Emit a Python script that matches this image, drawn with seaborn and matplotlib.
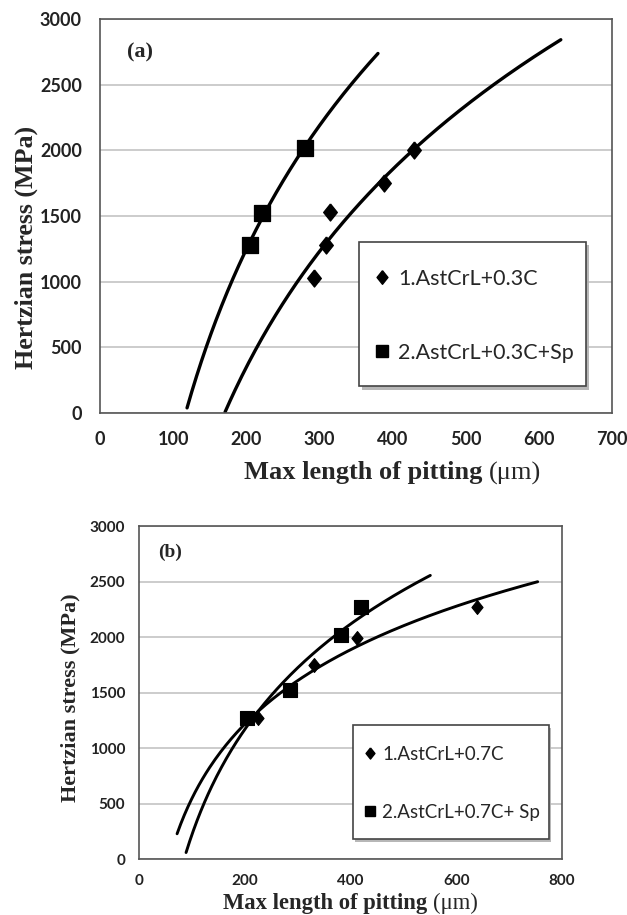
import numpy as np
import pandas as pd
import matplotlib
matplotlib.use("Agg")
import matplotlib.pyplot as plt
import seaborn as sns
from matplotlib.lines import Line2D
from matplotlib.patches import Rectangle, Shadow

# ---------------- data ----------------
# panel (a)
a_s1_label = "1.AstCrL+0.3C"
a_s1_x = [292, 309, 314, 388, 429]
a_s1_y = [1030, 1280, 1530, 1750, 2000]
a_s2_label = "2.AstCrL+0.3C+Sp"
a_s2_x = [205, 222, 280]
a_s2_y = [1280, 1520, 2020]
a_s1_trend_range = [171, 630]
a_s2_trend_range = [119, 380]

# panel (b)
b_s1_label = "1.AstCrL+0.7C"
b_s1_x = [226, 331, 413, 639]
b_s1_y = [1270, 1750, 1995, 2275]
b_s2_label = "2.AstCrL+0.7C+ Sp"
b_s2_x = [204, 285, 382, 419]
b_s2_y = [1270, 1520, 2015, 2275]
b_s1_trend_range = [72, 754]
b_s2_trend_range = [89, 551]

a_xticks = [0, 100, 200, 300, 400, 500, 600, 700]
b_xticks = [0, 200, 400, 600, 800]
yticks = [0, 500, 1000, 1500, 2000, 2500, 3000]

sns.set_theme(style="white")
plt.rcParams["font.family"] = ["Lato", "DejaVu Sans"]

SERIF = "Liberation Serif"
DIAMOND = [(0, 1), (0.8, 0), (0, -1), (-0.8, 0), (0, 1)]


def log_trend(x, y, xr):
    a, b = np.polyfit(np.log(np.asarray(x, float)), np.asarray(y, float), 1)
    xs = np.linspace(xr[0], xr[1], 200)
    return pd.DataFrame({"x": xs, "y": a * np.log(xs) + b})


def panel(ax, s1, s2, r1, r2, xticks, xmax, tag, tag_pos, tag_fs, tick_fs,
          tick_pad, lw, ms1, ms2, leg_fs, frame, leg_anchor, leg_ls, leg_tp):
    ax.set_xlim(0, xmax)
    ax.set_ylim(0, 3000)
    ax.yaxis.grid(True, color="#c8c8c8", lw=1.3)
    ax.xaxis.grid(False)
    for sp in ax.spines.values():
        sp.set_color("#555555")
        sp.set_linewidth(1.2)
    t1 = log_trend(s1[0], s1[1], r1)
    t2 = log_trend(s2[0], s2[1], r2)
    sns.lineplot(data=t1, x="x", y="y", ax=ax, color="black", lw=lw, sort=False)
    sns.lineplot(data=t2, x="x", y="y", ax=ax, color="black", lw=lw, sort=False)
    d1 = pd.DataFrame({"x": s1[0], "y": s1[1]})
    d2 = pd.DataFrame({"x": s2[0], "y": s2[1]})
    sns.scatterplot(data=d1, x="x", y="y", ax=ax, marker=DIAMOND, s=ms1,
                    color="black", edgecolor="black", zorder=5)
    sns.scatterplot(data=d2, x="x", y="y", ax=ax, marker="s", s=ms2,
                    color="black", edgecolor="black", zorder=5)
    ax.set_xticks(xticks)
    ax.set_yticks(yticks)
    ax.tick_params(axis="x", length=0, labelsize=tick_fs, pad=tick_pad[0])
    ax.tick_params(axis="y", length=0, labelsize=tick_fs, pad=tick_pad[1])
    for lab in ax.get_xticklabels() + ax.get_yticklabels():
        lab.set_fontweight("bold")
        lab.set_color("#222222")
    ax.set_xlabel("")
    ax.set_ylabel("")
    ax.text(tag_pos[0], tag_pos[1], tag, transform=ax.transAxes,
            fontfamily=SERIF, fontweight="bold", fontsize=tag_fs,
            va="center", ha="center")
    # legend frame with drop shadow
    rect = Rectangle((frame[0], frame[1]), frame[2], frame[3],
                     transform=ax.transAxes, facecolor="white",
                     edgecolor="#444444", lw=1.2, zorder=8)
    shadow = Shadow(rect, 0.004, -0.006, facecolor="#b0b0b0",
                    edgecolor="none", alpha=0.9, zorder=7.5)
    ax.add_patch(shadow)
    ax.add_patch(rect)
    handles = [
        Line2D([], [], marker=DIAMOND, ls="none", color="black",
               markersize=np.sqrt(ms1) * 0.8),
        Line2D([], [], marker="s", ls="none", color="black",
               markersize=np.sqrt(ms2) * 0.75),
    ]
    leg = ax.legend(handles, [s1[2], s2[2]], loc="center left",
                    bbox_to_anchor=leg_anchor, fontsize=leg_fs,
                    frameon=False, handlelength=0.7,
                    handletextpad=leg_tp, labelspacing=leg_ls,
                    borderpad=0, borderaxespad=0)
    leg.set_zorder(10)
    return ax


def xlabel(fig, xsplit, y, fs):
    fig.text(xsplit, y, "Max length of pitting ", ha="right", va="center",
             fontfamily=SERIF, fontweight="bold", fontsize=fs)
    fig.text(xsplit, y, "(\u03bcm)", ha="left", va="center",
             fontfamily=SERIF, fontsize=fs)


def ylabel(fig, x, y, fs):
    fig.text(x, y, "Hertzian stress (MPa)", rotation=90, ha="center",
             va="center", fontfamily=SERIF, fontweight="bold", fontsize=fs)


fig = plt.figure(figsize=(6.27, 9.15), dpi=100)

ax1 = fig.add_axes([0.1595, 0.5486, 0.8166, 0.4306])
panel(ax1, (a_s1_x, a_s1_y, a_s1_label), (a_s2_x, a_s2_y, a_s2_label),
      a_s1_trend_range, a_s2_trend_range, a_xticks, 700, "(a)",
      (0.078, 0.916), tag_fs=16, tick_fs=13, tick_pad=(13, 13),
      lw=2.4, ms1=150, ms2=130, leg_fs=15.5,
      frame=(0.506, 0.068, 0.443, 0.366), leg_anchor=(0.536, 0.247),
      leg_ls=2.5, leg_tp=0.4)
xlabel(fig, 0.780, 1 - 473 / 915, 19)
ylabel(fig, 26 / 627, 1 - 247 / 915, 18.7)

ax2 = fig.add_axes([0.2217, 0.0612, 0.6746, 0.3639])
panel(ax2, (b_s1_x, b_s1_y, b_s1_label), (b_s2_x, b_s2_y, b_s2_label),
      b_s1_trend_range, b_s2_trend_range, b_xticks, 800, "(b)",
      (0.073, 0.922), tag_fs=14, tick_fs=11, tick_pad=(11, 10),
      lw=2.1, ms1=100, ms2=100, leg_fs=13.5,
      frame=(0.506, 0.06, 0.463, 0.342), leg_anchor=(0.5305, 0.227),
      leg_ls=2.2, leg_tp=0.29)
xlabel(fig, 0.6906, 1 - 903 / 915, 16.3)
ylabel(fig, 70 / 627, 1 - 698 / 915, 16)

fig.savefig("out.png", dpi=100)
